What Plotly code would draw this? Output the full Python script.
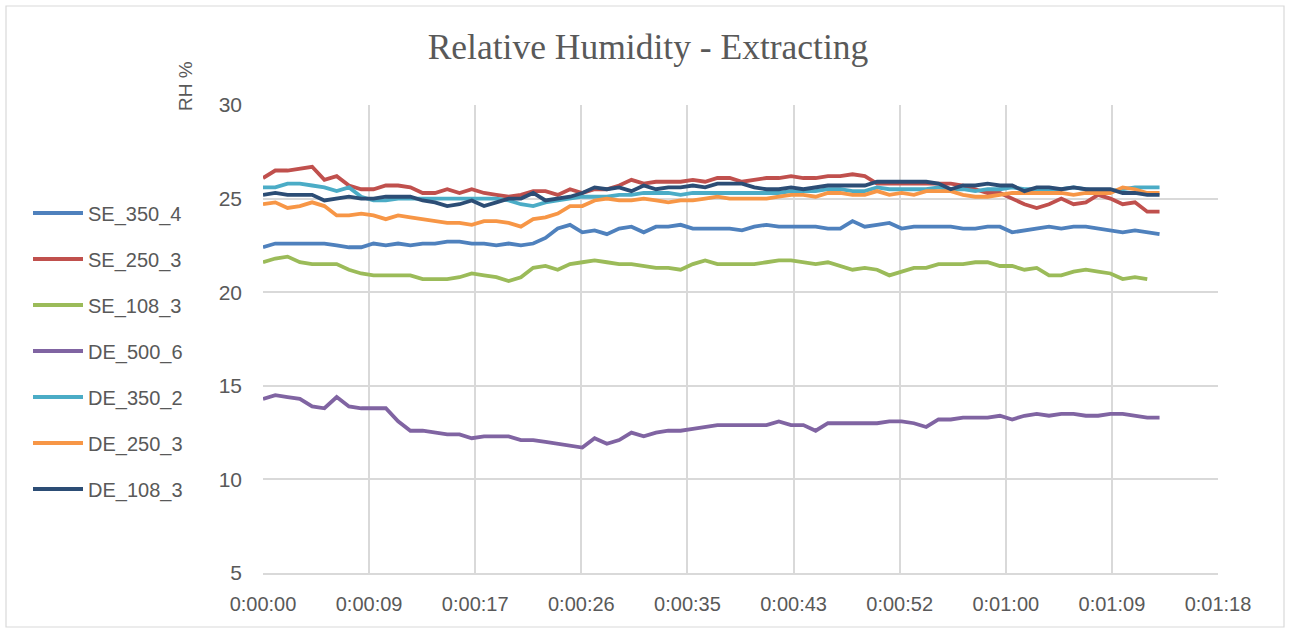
import plotly.graph_objects as go

# time in seconds (one sample per second)
x_tick_labels = ["0:00:00", "0:00:09", "0:00:17", "0:00:26", "0:00:35",
                 "0:00:43", "0:00:52", "0:01:00", "0:01:09", "0:01:18"]
tick_step_s = 8.64  # 0.0001 day

SE_350_4 = [22.4, 22.6, 22.6, 22.6, 22.6, 22.6, 22.5, 22.4, 22.4, 22.6, 22.5, 22.6, 22.5, 22.6, 22.6, 22.7, 22.7, 22.6, 22.6, 22.5,
            22.6, 22.5, 22.6, 22.9, 23.4, 23.6, 23.2, 23.3, 23.1, 23.4, 23.5, 23.2, 23.5, 23.5, 23.6, 23.4, 23.4, 23.4, 23.4, 23.3,
            23.5, 23.6, 23.5, 23.5, 23.5, 23.5, 23.4, 23.4, 23.8, 23.5, 23.6, 23.7, 23.4, 23.5, 23.5, 23.5, 23.5, 23.4, 23.4, 23.5,
            23.5, 23.2, 23.3, 23.4, 23.5, 23.4, 23.5, 23.5, 23.4, 23.3, 23.2, 23.3, 23.2, 23.1]
SE_250_3 = [26.1, 26.5, 26.5, 26.6, 26.7, 26.0, 26.2, 25.7, 25.5, 25.5, 25.7, 25.7, 25.6, 25.3, 25.3, 25.5, 25.3, 25.5, 25.3, 25.2,
            25.1, 25.2, 25.4, 25.4, 25.2, 25.5, 25.3, 25.5, 25.5, 25.7, 26.0, 25.8, 25.9, 25.9, 25.9, 26.0, 25.9, 26.1, 26.1, 25.9,
            26.0, 26.1, 26.1, 26.2, 26.1, 26.1, 26.2, 26.2, 26.3, 26.2, 25.8, 25.8, 25.8, 25.8, 25.8, 25.8, 25.8, 25.7, 25.5, 25.3,
            25.3, 25.0, 24.7, 24.5, 24.7, 25.0, 24.7, 24.8, 25.2, 25.0, 24.7, 24.8, 24.3, 24.3]
SE_108_3 = [21.6, 21.8, 21.9, 21.6, 21.5, 21.5, 21.5, 21.2, 21.0, 20.9, 20.9, 20.9, 20.9, 20.7, 20.7, 20.7, 20.8, 21.0, 20.9, 20.8,
            20.6, 20.8, 21.3, 21.4, 21.2, 21.5, 21.6, 21.7, 21.6, 21.5, 21.5, 21.4, 21.3, 21.3, 21.2, 21.5, 21.7, 21.5, 21.5, 21.5,
            21.5, 21.6, 21.7, 21.7, 21.6, 21.5, 21.6, 21.4, 21.2, 21.3, 21.2, 20.9, 21.1, 21.3, 21.3, 21.5, 21.5, 21.5, 21.6, 21.6,
            21.4, 21.4, 21.2, 21.3, 20.9, 20.9, 21.1, 21.2, 21.1, 21.0, 20.7, 20.8, 20.7]
DE_500_6 = [14.3, 14.5, 14.4, 14.3, 13.9, 13.8, 14.4, 13.9, 13.8, 13.8, 13.8, 13.1, 12.6, 12.6, 12.5, 12.4, 12.4, 12.2, 12.3, 12.3,
            12.3, 12.1, 12.1, 12.0, 11.9, 11.8, 11.7, 12.2, 11.9, 12.1, 12.5, 12.3, 12.5, 12.6, 12.6, 12.7, 12.8, 12.9, 12.9, 12.9,
            12.9, 12.9, 13.1, 12.9, 12.9, 12.6, 13.0, 13.0, 13.0, 13.0, 13.0, 13.1, 13.1, 13.0, 12.8, 13.2, 13.2, 13.3, 13.3, 13.3,
            13.4, 13.2, 13.4, 13.5, 13.4, 13.5, 13.5, 13.4, 13.4, 13.5, 13.5, 13.4, 13.3, 13.3]
DE_350_2 = [25.6, 25.6, 25.8, 25.8, 25.7, 25.6, 25.4, 25.6, 25.1, 24.9, 24.9, 25.0, 25.0, 25.0, 25.0, 25.0, 25.0, 25.0, 25.0, 25.0,
            24.9, 24.7, 24.6, 24.8, 24.9, 25.0, 25.1, 25.1, 25.1, 25.2, 25.2, 25.3, 25.3, 25.3, 25.2, 25.3, 25.3, 25.3, 25.3, 25.3,
            25.3, 25.3, 25.3, 25.4, 25.4, 25.4, 25.5, 25.5, 25.4, 25.4, 25.6, 25.5, 25.5, 25.5, 25.5, 25.6, 25.5, 25.5, 25.4, 25.5,
            25.5, 25.6, 25.5, 25.5, 25.5, 25.5, 25.6, 25.5, 25.4, 25.4, 25.5, 25.6, 25.6, 25.6]
DE_250_3 = [24.7, 24.8, 24.5, 24.6, 24.8, 24.6, 24.1, 24.1, 24.2, 24.1, 23.9, 24.1, 24.0, 23.9, 23.8, 23.7, 23.7, 23.6, 23.8, 23.8,
            23.7, 23.5, 23.9, 24.0, 24.2, 24.6, 24.6, 24.9, 25.0, 24.9, 24.9, 25.0, 24.9, 24.8, 24.9, 24.9, 25.0, 25.1, 25.0, 25.0,
            25.0, 25.0, 25.1, 25.2, 25.2, 25.1, 25.3, 25.3, 25.2, 25.2, 25.4, 25.2, 25.3, 25.2, 25.4, 25.4, 25.4, 25.2, 25.1, 25.1,
            25.2, 25.3, 25.3, 25.3, 25.3, 25.3, 25.2, 25.3, 25.3, 25.3, 25.6, 25.5, 25.3, 25.3]
DE_108_3 = [25.2, 25.3, 25.2, 25.2, 25.2, 24.9, 25.0, 25.1, 25.0, 25.0, 25.1, 25.1, 25.1, 24.9, 24.8, 24.6, 24.7, 24.9, 24.6, 24.8,
            25.0, 25.0, 25.3, 24.9, 25.0, 25.1, 25.3, 25.6, 25.5, 25.6, 25.4, 25.7, 25.5, 25.6, 25.6, 25.7, 25.6, 25.8, 25.8, 25.8,
            25.6, 25.5, 25.5, 25.6, 25.5, 25.6, 25.7, 25.7, 25.7, 25.7, 25.9, 25.9, 25.9, 25.9, 25.9, 25.8, 25.5, 25.7, 25.7, 25.8,
            25.7, 25.7, 25.4, 25.6, 25.6, 25.5, 25.6, 25.5, 25.5, 25.5, 25.3, 25.3, 25.2, 25.2]

series = [
    ("SE_350_4", SE_350_4, "#4F81BD"),
    ("SE_250_3", SE_250_3, "#C0504D"),
    ("SE_108_3", SE_108_3, "#9BBB59"),
    ("DE_500_6", DE_500_6, "#8064A2"),
    ("DE_350_2", DE_350_2, "#4BACC6"),
    ("DE_250_3", DE_250_3, "#F79646"),
    ("DE_108_3", DE_108_3, "#2C4D75"),
]

fig = go.Figure()
for name, vals, color in series:
    fig.add_trace(go.Scatter(
        x=list(range(len(vals))), y=vals, name=name, mode="lines",
        line=dict(color=color, width=3.8), legendgroup=name,
    ))

tickvals = [i * tick_step_s for i in range(len(x_tick_labels))]
text_color = "#595959"
grid = "#d9d9d9"

W, H = 1290, 633
# screen coordinates of plot area
SL, SR, ST, SB = 263, 1218, 105, 573
L, T, R, B = SL, ST, W - SR, H - SB
pw, ph = W - L - R, H - T - B

def px(xs):
    return (xs - SL) / pw

def py(ys):
    return 1 - (ys - ST) / ph

fig.update_layout(
    width=W, height=H,
    margin=dict(l=L, r=R, t=T, b=B),
    paper_bgcolor="white", plot_bgcolor="white",
    title=dict(text="Relative Humidity - Extracting", x=px(648), xref="paper",
               xanchor="center", y=1 - 47 / H, yanchor="middle",
               font=dict(family="Liberation Serif, serif", size=35.5, color=text_color)),
    xaxis=dict(range=[0, tickvals[-1]], tickvals=tickvals, ticktext=x_tick_labels,
               showgrid=True, gridcolor=grid, gridwidth=1.5, zeroline=False,
               showline=True, linecolor=grid, linewidth=1.5, ticks="",
               ticklabelstandoff=12,
               tickfont=dict(family="Liberation Sans, sans-serif", size=20, color=text_color)),
    yaxis=dict(range=[5, 30], dtick=5, tick0=5, showgrid=True, gridcolor=grid, gridwidth=1.5,
               zeroline=False, showline=False, ticks="", ticklabelstandoff=20,
               tickfont=dict(family="Liberation Sans, sans-serif", size=21, color=text_color)),
    legend=dict(x=px(28), xanchor="left", y=py(351), yanchor="middle",
                font=dict(family="Liberation Sans, sans-serif", size=20, color=text_color),
                tracegroupgap=17, traceorder="grouped", bgcolor="rgba(0,0,0,0)",
                itemwidth=50),
    showlegend=True,
)

fig.add_annotation(text="RH %", xref="paper", yref="paper", x=px(186), y=py(86),
                   textangle=-90, showarrow=False, xanchor="center", yanchor="middle",
                   font=dict(family="Liberation Sans, sans-serif", size=19, color=text_color))

fig.add_shape(type="rect", xref="paper", yref="paper",
              x0=px(6), x1=px(1284), y0=py(627), y1=py(6),
              line=dict(color=grid, width=1.2), fillcolor="rgba(0,0,0,0)", layer="below")

fig.write_html("out.html", config={"displayModeBar": False},
               post_script="document.body.style.margin='0';document.body.style.overflow='hidden';")
